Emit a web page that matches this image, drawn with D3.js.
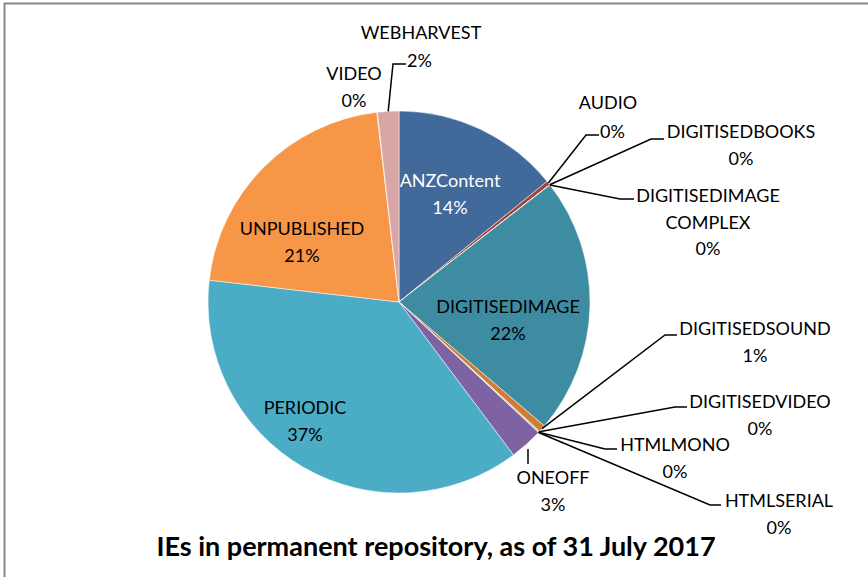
<!DOCTYPE html>
<html>
<head>
<meta charset="utf-8">
<script src="https://cdn.jsdelivr.net/npm/d3@7/dist/d3.min.js"></script>
<style>
  body { margin: 0; background: #fff; }
  text { font-family: Lato, "Open Sans", sans-serif; }
</style>
</head>
<body>
<svg id="chart" width="868" height="577"></svg>
<script>
// data (percent of IEs)
var categories = ["ANZContent", "AUDIO", "DIGITISEDBOOKS", "DIGITISEDIMAGE COMPLEX", "DIGITISEDIMAGE",
  "DIGITISEDSOUND", "DIGITISEDVIDEO", "HTMLMONO", "HTMLSERIAL", "ONEOFF", "PERIODIC",
  "UNPUBLISHED", "VIDEO", "WEBHARVEST"];
var values = [14.1, 0.35, 0.02, 0.02, 21.7, 0.6, 0.1, 0.02, 0.02, 2.8, 37.0, 21.3, 0.05, 1.8];
var colors = ["#416a9b", "#a4423e", "#7f9b48", "#67508a", "#3d8ca2", "#d17c33", "#9bbb59",
  "#8064a2", "#4bacc6", "#7f62a2", "#4bacc6", "#f79646", "#c8a2a2", "#d9a6a6"];
var title = "IEs in permanent repository, as of 31 July 2017";

// label layout: lines, centre x, first baseline y, fill, leader elbow [x, y, endX]
var labelLayout = {
  "ANZContent":    { lines: ["ANZContent"], x: 450, y: 187, fill: "#fff" },
  "AUDIO":         { lines: ["AUDIO"], x: 608, y: 109, leader: [586, 135, 599], pctRight: true },
  "DIGITISEDBOOKS":{ lines: ["DIGITISEDBOOKS"], x: 741, y: 138, leader: [651, 139, 664] },
  "DIGITISEDIMAGE COMPLEX": { lines: ["DIGITISEDIMAGE", "COMPLEX"], x: 708, y: 202, leader: [620, 199, 634] },
  "DIGITISEDIMAGE":{ lines: ["DIGITISEDIMAGE"], x: 508, y: 313 },
  "DIGITISEDSOUND":{ lines: ["DIGITISEDSOUND"], x: 755, y: 335, leader: [665, 335, 677] },
  "DIGITISEDVIDEO":{ lines: ["DIGITISEDVIDEO"], x: 760, y: 408, leader: [675, 407, 687] },
  "HTMLMONO":      { lines: ["HTMLMONO"], x: 675, y: 451, leader: [605, 449, 617] },
  "HTMLSERIAL":    { lines: ["HTMLSERIAL"], x: 779, y: 507, leader: [710, 505, 721] },
  "ONEOFF":        { lines: ["ONEOFF"], x: 553, y: 484, tick: [528, 449, 464] },
  "PERIODIC":      { lines: ["PERIODIC"], x: 305, y: 414 },
  "UNPUBLISHED":   { lines: ["UNPUBLISHED"], x: 302, y: 235 },
  "VIDEO":         { lines: ["VIDEO"], x: 354, y: 80 },
  "WEBHARVEST":    { lines: ["WEBHARVEST"], x: 421, y: 39, leader: [393, 64, 406], pctRight: true }
};

var svg = d3.select("#chart"),
    width = +svg.attr("width"),
    height = +svg.attr("height");

// frame
svg.append("path")
  .attr("d", "M4.5," + (height + 2) + "V3.5H" + (width + 2))
  .attr("fill", "none")
  .attr("stroke", "#888")
  .attr("stroke-width", 2);

var cx = 399, cy = 302, radius = 191;
var total = d3.sum(values);
var table = categories.map(function(c, i) { return { name: c, value: values[i], color: colors[i] }; });

var pie = d3.pie().sort(null).value(function(d) { return d.value; });
var arc = d3.arc().innerRadius(0).outerRadius(radius);
var arcs = pie(table);

var g = svg.append("g").attr("transform", "translate(" + cx + "," + cy + ")");

g.selectAll("path.slice")
  .data(arcs)
  .enter().append("path")
  .attr("class", "slice")
  .attr("d", arc)
  .attr("fill", function(d) { return d.data.color; })
  .attr("stroke", "#fff")
  .attr("stroke-width", 0.5);

function pct(d) { return Math.round(d.data.value / total * 100) + "%"; }

// leader lines
arcs.forEach(function(d) {
  var L = labelLayout[d.data.name];
  if (!L.leader) return;
  var a = (d.startAngle + d.endAngle) / 2;
  var ax = cx + Math.sin(a) * radius, ay = cy - Math.cos(a) * radius;
  svg.append("polyline")
    .attr("points", [[ax, ay], [L.leader[0], L.leader[1]], [L.leader[2], L.leader[1]]].join(" "))
    .attr("fill", "none")
    .attr("stroke", "#000")
    .attr("stroke-width", 1.5);
});
var one = labelLayout["ONEOFF"].tick;
svg.append("line")
  .attr("x1", one[0]).attr("x2", one[0]).attr("y1", one[1]).attr("y2", one[2])
  .attr("stroke", "#000").attr("stroke-width", 1.5);

// labels
var lineH = 26.5, fs = 18;
arcs.forEach(function(d) {
  var L = labelLayout[d.data.name];
  var t = svg.append("text")
    .attr("text-anchor", "middle")
    .attr("font-size", fs)
    .attr("fill", L.fill || "#000");
  L.lines.forEach(function(s, i) {
    t.append("tspan").attr("x", L.x).attr("y", L.y + i * lineH).text(s);
  });
  if (L.pctRight) {
    svg.append("text").attr("x", L.leader[2] + 1).attr("y", L.leader[1] + 3)
      .attr("font-size", fs).text(pct(d));
  } else {
    t.append("tspan").attr("x", L.x).attr("y", L.y + L.lines.length * lineH).text(pct(d));
  }
});

svg.append("text")
  .attr("x", 436)
  .attr("y", 556)
  .attr("text-anchor", "middle")
  .attr("font-size", 27)
  .attr("font-weight", "bold")
  .text(title);
</script>
</body>
</html>
